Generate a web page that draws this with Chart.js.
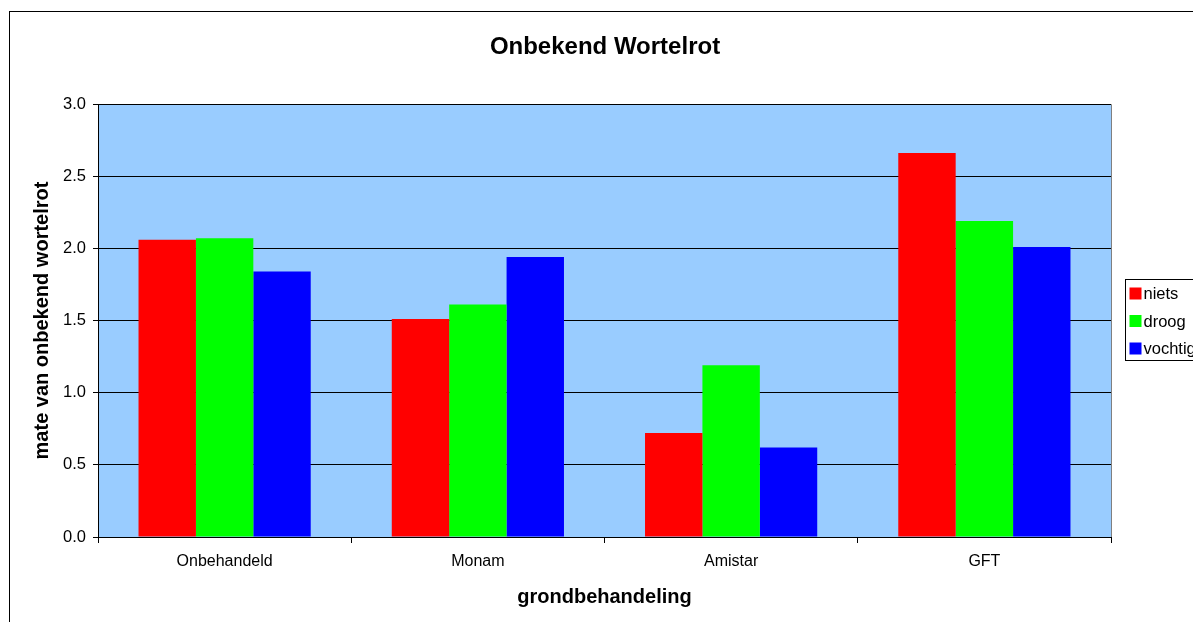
<!DOCTYPE html>
<html>
<head>
<meta charset="utf-8">
<script src="https://cdn.jsdelivr.net/npm/chart.js@4/dist/chart.umd.min.js"></script>
<style>
  html, body { margin: 0; padding: 0; background: #fff; overflow: hidden; }
  #kader {
    position: absolute; left: 9px; top: 11px;
    width: 1190px; height: 615px;
    border: 1px solid #000;
  }
</style>
</head>
<body>
<div id="kader"><canvas id="grafiek" width="1190" height="615"></canvas></div>
<script>
// gegevens
const behandelingen = ['Onbehandeld', 'Monam', 'Amistar', 'GFT'];
const niets = [2.06, 1.51, 0.72, 2.66];
const droog = [2.07, 1.61, 1.19, 2.19];
const vochtig = [1.84, 1.94, 0.62, 2.01];
const yTicks = [0, 0.5, 1.0, 1.5, 2.0, 2.5, 3.0];
const titel = 'Onbekend Wortelrot';

const lettertype = 'Arial, "Liberation Sans", sans-serif';

// achtergrond van het plotgebied
const plotAchtergrond = {
    id: 'plotAchtergrond',
    beforeDraw(chart) {
        const { ctx, chartArea: a } = chart;
        ctx.save();
        ctx.fillStyle = '#99CCFF';
        ctx.fillRect(a.left, a.top, a.right - a.left, a.bottom - a.top);
        ctx.strokeStyle = '#808080';
        ctx.lineWidth = 1;
        ctx.beginPath();
        ctx.moveTo(a.left, a.top + 0.5);
        ctx.lineTo(a.right + 0.5, a.top + 0.5);
        ctx.lineTo(a.right + 0.5, a.bottom);
        ctx.stroke();
        ctx.restore();
    }
};

// titel gecentreerd over de hele grafiek (niet alleen het plotgebied)
const grafiekTitel = {
    id: 'grafiekTitel',
    afterDraw(chart) {
        const ctx = chart.ctx;
        ctx.save();
        ctx.fillStyle = '#000';
        ctx.font = 'bold 24px ' + lettertype;
        ctx.textAlign = 'center';
        ctx.textBaseline = 'middle';
        ctx.fillText(titel, chart.width / 2, 35);
        ctx.restore();
    }
};

// legenda met kader, rechts naast het plotgebied
const legendaKader = {
    id: 'legendaKader',
    afterDraw(chart) {
        const { ctx, chartArea: a } = chart;
        const sets = chart.data.datasets;
        const x = a.right + 14.5;
        const h = 81;
        const y = Math.round((a.top + a.bottom) / 2 - h / 2) - 0.5;
        ctx.save();
        ctx.fillStyle = '#fff';
        ctx.fillRect(x, y, 100, h);
        ctx.strokeStyle = '#000';
        ctx.lineWidth = 1;
        ctx.strokeRect(x, y, 100, h);
        ctx.font = '16.5px ' + lettertype;
        ctx.textBaseline = 'middle';
        sets.forEach((ds, i) => {
            const cy = y + 14 + i * 27.5;
            ctx.fillStyle = ds.backgroundColor;
            ctx.fillRect(x + 4, cy - 6, 12, 12);
            ctx.fillStyle = '#000';
            ctx.fillText(ds.label, x + 18, cy + 1);
        });
        ctx.restore();
    }
};

const ctx = document.getElementById('grafiek').getContext('2d');
new Chart(ctx, {
    type: 'bar',
    data: {
        labels: behandelingen,
        datasets: [
            { label: 'niets', data: niets, backgroundColor: '#FF0000' },
            { label: 'droog', data: droog, backgroundColor: '#00FF00' },
            { label: 'vochtig', data: vochtig, backgroundColor: '#0000FF' }
        ]
    },
    plugins: [plotAchtergrond, grafiekTitel, legendaKader],
    options: {
        responsive: false,
        animation: false,
        devicePixelRatio: 1,
        layout: { padding: { left: 0, right: 89, top: 92, bottom: 0 } },
        datasets: {
            bar: { categoryPercentage: 0.68, barPercentage: 1.0, borderWidth: 0 }
        },
        plugins: {
            legend: { display: false },
            tooltip: { enabled: false },
            title: { display: false }
        },
        scales: {
            x: {
                offset: true,
                grid: {
                    offset: true,
                    drawOnChartArea: false,
                    drawTicks: true,
                    tickLength: 6,
                    color: '#000'
                },
                border: { color: '#000', width: 1 },
                ticks: {
                    color: '#000',
                    font: { family: lettertype, size: 16 },
                    padding: 9
                },
                title: {
                    display: true,
                    text: 'grondbehandeling',
                    color: '#000',
                    font: { family: lettertype, size: 20, weight: 'bold' },
                    padding: { top: 14, bottom: 18 }
                },
                afterFit(scale) { scale.height = 90; }
            },
            y: {
                min: 0,
                max: 3,
                afterBuildTicks(scale) {
                    scale.ticks = yTicks.map(v => ({ value: v }));
                },
                grid: {
                    color: '#000',
                    drawTicks: true,
                    tickLength: 5
                },
                border: { color: '#000', width: 1 },
                ticks: {
                    color: '#000',
                    font: { family: lettertype, size: 16.5 },
                    padding: 7,
                    callback: v => v.toFixed(1)
                },
                title: {
                    display: true,
                    text: 'mate van onbekend wortelrot',
                    color: '#000',
                    font: { family: lettertype, size: 20, weight: 'bold' },
                    padding: { top: 20, bottom: 10 }
                },
                afterFit(scale) { scale.width = 88; }
            }
        }
    }
});
</script>
</body>
</html>
